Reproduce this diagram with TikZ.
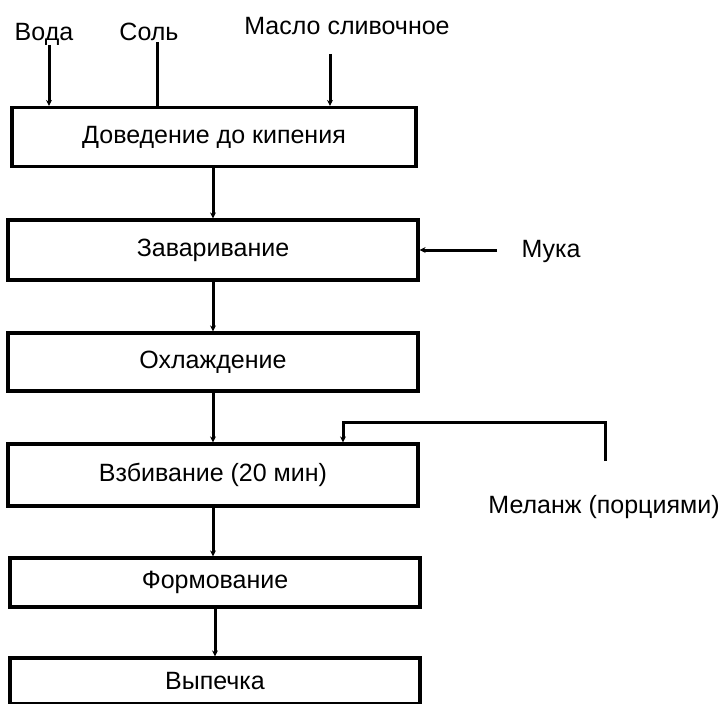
\documentclass[tikz,border=0pt]{standalone}
\usepackage{fontspec}
\setmainfont{Liberation Sans}
\usetikzlibrary{arrows.meta}
\begin{document}
\begin{tikzpicture}[x=1pt,y=-1pt,
  every node/.style={font=\fontsize{25}{29}\selectfont},
  stepbox/.style={draw,line width=3.2pt,inner sep=0pt},
  flow/.style={line width=3pt,-{Stealth[length=6pt,width=6pt]}},
  plain/.style={line width=3pt},
  label/.style={anchor=base,inner sep=0pt}]
\useasboundingbox (0,0) rectangle (727,703);

% process steps
\node[stepbox,minimum width=404pt,minimum height=59pt] (b1) at (214,137) {Доведение до кипения};
\node[stepbox,minimum width=410pt,minimum height=60pt] (b2) at (213,250) {Заваривание};
\node[stepbox,minimum width=410pt,minimum height=58pt] (b3) at (213,362) {Охлаждение};
\node[stepbox,minimum width=410pt,minimum height=62pt] (b4) at (213,475) {Взбивание (20 мин)};
\node[stepbox,minimum width=410pt,minimum height=49pt] (b5) at (215,582.5) {Формование};
\node[stepbox,minimum width=410pt,minimum height=46pt] (b6) at (215,681) {Выпечка};

% ingredients
\node[label] (voda) at (44,41) {Вода};
\node[label] (sol) at (149,41) {Соль};
\node[label] (maslo) at (347,35) {Масло сливочное};
\node (muka) at (551,251) {Мука};
\node (melanzh) at (604,507) {Меланж (порциями)};

\coordinate (vtop) at (49,45);
\coordinate (stop) at (157,42);
\coordinate (mtop) at (330,54);
\coordinate (mukaend) at (497,250);
\coordinate (melstart) at (605,461);
\coordinate (melcorner) at (343,422);

% ingredient inputs
\draw[flow] (vtop) -- (vtop |- b1.north);
\draw[plain] (stop) -- (stop |- b1.north);
\draw[flow] (mtop) -- (mtop |- b1.north);
\draw[flow] (mukaend) -- (b2.east |- mukaend);
\draw[flow] (melstart) -- (melstart |- melcorner) -- (melcorner) -- (melcorner |- b4.north);

% main flow
\draw[flow] (b1.south -| 213,0) -- (b2.north);
\draw[flow] (b2.south) -- (b3.north);
\draw[flow] (b3.south) -- (b4.north);
\draw[flow] (b4.south) -- (b4.south |- b5.north);
\draw[flow] (b5.south) -- (b6.north);
\end{tikzpicture}
\end{document}
